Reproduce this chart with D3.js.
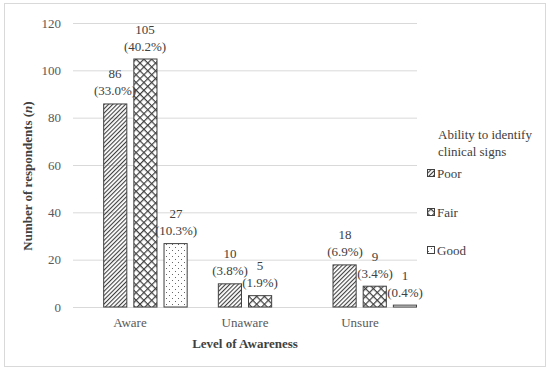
<html>
<head>
    <title>Level of Awareness</title>
    <script src="https://cdn.jsdelivr.net/npm/d3@7"></script>
    <style>
        body { margin: 0; background: #fff; }
        text { font-family: "Liberation Serif", "DejaVu Serif", serif; }
    </style>
</head>
<body>
    <div id="graph"></div>
    <script>
        // data
        const categories = ["Aware", "Unaware", "Unsure"];
        // first slot is the (empty) legend header series, as in the original sheet
        const series = ["header", "Poor", "Fair", "Good"];
        const poor = [86, 10, 18];
        const fair = [105, 5, 9];
        const good = [27, 0, 1];
        const poorPct = ["33.0%", "3.8%", "6.9%"];
        const fairPct = ["40.2%", "1.9%", "3.4%"];
        const goodPct = ["10.3%", "", "0.4%"];
        const yTicks = [0, 20, 40, 60, 80, 100, 120];
        const legendTitle = ["Ability to identify", "clinical signs"];

        const width = 550, height = 373;
        const margin = {top: 23, right: 133, bottom: 66, left: 73};

        const svg = d3.select("#graph").append("svg")
            .attr("width", width)
            .attr("height", height);

        // outer frame
        svg.append("rect")
            .attr("x", 4.5).attr("y", 3.5)
            .attr("width", 541).attr("height", 363)
            .attr("fill", "#fff")
            .attr("stroke", "#d9d9d9");

        const defs = svg.append("defs");

        // Poor: upward diagonal hatch
        defs.append("pattern")
            .attr("id", "pat-poor")
            .attr("patternUnits", "userSpaceOnUse")
            .attr("width", 3).attr("height", 3)
            .attr("patternTransform", "rotate(45)")
            .append("rect")
            .attr("x", 0).attr("y", 0)
            .attr("width", 1.1).attr("height", 3)
            .attr("fill", "#404040");

        // Fair: diagonal cross
        const pf = defs.append("pattern")
            .attr("id", "pat-fair")
            .attr("patternUnits", "userSpaceOnUse")
            .attr("width", 5.5).attr("height", 5.5)
            .attr("patternTransform", "rotate(45)");
        pf.append("rect").attr("width", 5.5).attr("height", 5.5).attr("fill", "#fff");
        pf.append("rect").attr("x", 0).attr("y", 0).attr("width", 1.2).attr("height", 5.5).attr("fill", "#404040");
        pf.append("rect").attr("x", 0).attr("y", 0).attr("width", 5.5).attr("height", 1.2).attr("fill", "#404040");

        // Good: sparse dots
        const pg = defs.append("pattern")
            .attr("id", "pat-good")
            .attr("patternUnits", "userSpaceOnUse")
            .attr("width", 6).attr("height", 6);
        pg.append("rect").attr("width", 6).attr("height", 6).attr("fill", "#fff");
        pg.append("rect").attr("x", 1).attr("y", 1).attr("width", 1).attr("height", 1).attr("fill", "#666");
        pg.append("rect").attr("x", 4).attr("y", 4).attr("width", 1).attr("height", 1).attr("fill", "#666");

        const fills = {Poor: "url(#pat-poor)", Fair: "url(#pat-fair)", Good: "url(#pat-good)"};

        const x0 = d3.scaleBand()
            .domain(categories)
            .range([margin.left, width - margin.right]);

        const x1 = d3.scaleBand()
            .domain(series)
            .range([0, x0.bandwidth()])
            .paddingInner(0.2)
            .paddingOuter(0);

        const y = d3.scaleLinear()
            .domain([0, 120])
            .range([height - margin.bottom, margin.top]);

        // gridlines
        svg.append("g")
            .selectAll("line")
            .data(yTicks)
            .join("line")
            .attr("x1", margin.left)
            .attr("x2", width - margin.right)
            .attr("y1", d => y(d) + 0.5)
            .attr("y2", d => y(d) + 0.5)
            .attr("stroke", "#d9d9d9")
            .attr("stroke-width", 1);

        // y tick labels
        svg.append("g")
            .attr("font-size", 13)
            .attr("fill", "#595959")
            .attr("text-anchor", "end")
            .selectAll("text")
            .data(yTicks)
            .join("text")
            .attr("x", 61)
            .attr("y", d => y(d))
            .attr("dy", "0.35em")
            .text(d => d);

        // bars
        const rows = [];
        categories.forEach((c, i) => {
            rows.push({cat: c, s: "Poor", v: poor[i], p: poorPct[i]});
            rows.push({cat: c, s: "Fair", v: fair[i], p: fairPct[i]});
            rows.push({cat: c, s: "Good", v: good[i], p: goodPct[i]});
        });

        svg.append("g")
            .selectAll("rect")
            .data(rows.filter(d => d.v > 0))
            .join("rect")
            .attr("x", d => x0(d.cat) + x1(d.s) + 0.5)
            .attr("y", d => y(d.v) + 0.5)
            .attr("width", x1.bandwidth() - 1)
            .attr("height", d => y(0) - y(d.v) - 0.5)
            .attr("fill", d => fills[d.s])
            .attr("stroke", "#404040")
            .attr("stroke-width", 1);

        // data labels (rounded positions keep the glyphs crisp)
        const lab = svg.append("g")
            .attr("font-size", 13)
            .attr("fill", "#404040")
            .attr("text-anchor", "middle")
            .selectAll("g")
            .data(rows.filter(d => d.v > 0))
            .join("g")
            .attr("transform", d => `translate(${Math.round(x0(d.cat) + x1(d.s) + x1.bandwidth() / 2)},${Math.round(y(d.v))})`);
        lab.append("text").attr("y", -25).text(d => d.v);
        lab.append("text").attr("y", -8).text(d => `(${d.p})`);

        // category labels
        svg.append("g")
            .attr("font-size", 13)
            .attr("fill", "#595959")
            .attr("text-anchor", "middle")
            .selectAll("text")
            .data(categories)
            .join("text")
            .attr("x", d => Math.round(x0(d) + x0.bandwidth() / 2))
            .attr("y", 327)
            .text(d => d);

        // axis titles
        svg.append("text")
            .attr("x", 245)
            .attr("y", 348)
            .attr("text-anchor", "middle")
            .attr("font-size", 13)
            .attr("font-weight", "bold")
            .attr("fill", "#404040")
            .text("Level of Awareness");

        const yt = svg.append("text")
            .attr("transform", "translate(32,176) rotate(-90)")
            .attr("text-anchor", "middle")
            .attr("font-size", 13)
            .attr("font-weight", "bold")
            .attr("fill", "#404040");
        yt.append("tspan").text("Number of respondents (");
        yt.append("tspan").attr("font-style", "italic").text("n");
        yt.append("tspan").text(")");

        // legend
        const lg = svg.append("g").attr("font-size", 13).attr("fill", "#404040");
        lg.selectAll("text.title")
            .data(legendTitle)
            .join("text")
            .attr("class", "title")
            .attr("x", 438)
            .attr("y", (d, i) => 134 + i * 17)
            .attr("dy", "0.35em")
            .text(d => d);

        const items = lg.selectAll("g.item")
            .data(series.slice(1))
            .join("g")
            .attr("class", "item")
            .attr("transform", (d, i) => `translate(427,${Math.round(173 + i * 38.7)})`);
        items.append("rect")
            .attr("x", 0.5).attr("y", -3.5)
            .attr("width", 7).attr("height", 7)
            .attr("fill", d => fills[d])
            .attr("stroke", "#404040");
        items.append("text")
            .attr("x", 10)
            .attr("dy", "0.35em")
            .text(d => d);
    </script>
</body>
</html>
